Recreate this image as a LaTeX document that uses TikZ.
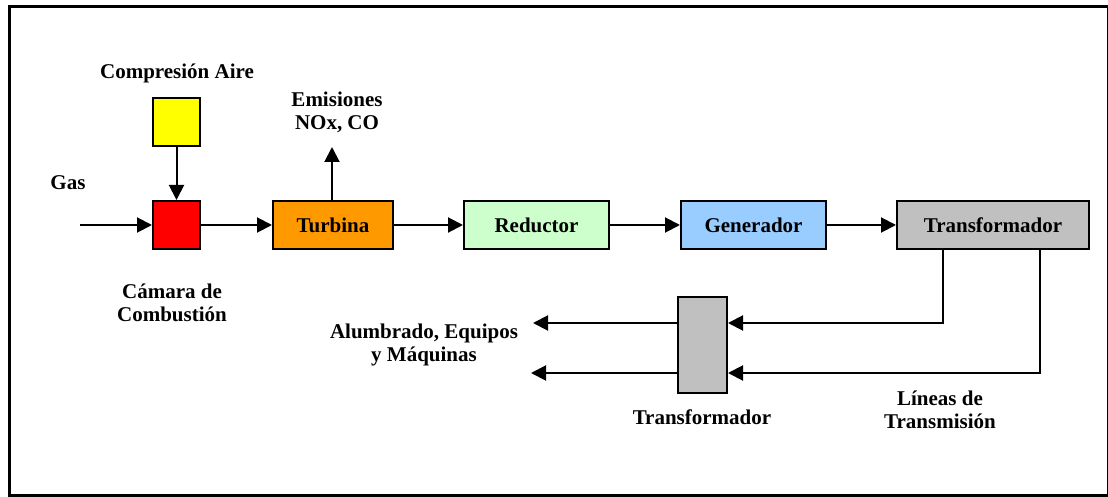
\documentclass[tikz,border=0pt]{standalone}
\usepackage{fontspec}
\setmainfont{Liberation Serif}
\usetikzlibrary{positioning,calc,arrows.meta}
\definecolor{cgas}{HTML}{FFFF00}
\definecolor{ccam}{HTML}{FF0000}
\definecolor{ctur}{HTML}{FF9900}
\definecolor{cred}{HTML}{CCFFCC}
\definecolor{cgen}{HTML}{99CCFF}
\definecolor{ctra}{HTML}{C0C0C0}
\tikzset{
  plant block/.style={rectangle, draw, line width=1pt, minimum height=24pt, inner sep=0pt, font=\bfseries},
  plant label/.style={align=center, inner sep=0pt, font=\bfseries},
  plant flow/.style={-{Triangle[length=7.5pt,width=7.5pt]}, line width=1pt}
}
\begin{document}
\begin{tikzpicture}[x=0.5pt, y=-0.5pt]
    \useasboundingbox (0,0) rectangle (1108,497);
    \fontsize{10.5}{11.5}\selectfont
    \draw [line width=1.5pt] (9,7) rectangle (1108.5,495.5);

    % main line
    \node [plant block, fill=cgas, minimum width=23.5pt] (Comp) at (176.5,122) {};
    \node [plant block, fill=ccam, minimum width=23.5pt] (Cam) at (176.5,225) {};
    \node [plant block, fill=ctur, minimum width=60pt] (Tur) at (333,225) {Turbina};
    \node [plant block, fill=cred, minimum width=72.5pt] (Red) at (536.5,225) {Reductor};
    \node [plant block, fill=cgen, minimum width=72.5pt] (Gen) at (753.5,225) {Generador};
    \node [plant block, fill=ctra, minimum width=96pt] (Tra) at (993,225) {Transformador};
    \node [plant block, fill=ctra, minimum width=24.5pt, minimum height=48pt] (Sub) at (702.5,345) {};

    % labels
    \node [plant label] (GasL) at (68,183) {Gas};
    \node [plant label] (CompL) at (177,73) {Compresión Aire};
    \node [plant label] (EmiL) at (337,112) {Emisiones\\NOx, CO};
    \node [plant label] (CamL) at (172,303) {Cámara de\\Combustión};
    \node [plant label] (AluL) at (424,345) {Alumbrado, Equipos\\y Máquinas};
    \node [plant label] (SubL) at (702,417) {Transformador};
    \node [plant label] (LinL) at (940,410) {Líneas de\\Transmisión};

    \coordinate (GasIn) at (80,225);
    \coordinate (EmiOut) at (332,147);
    \coordinate (OutA) at (533,323);
    \coordinate (OutB) at (531,373);

    \draw [plant flow] (GasIn) -- (Cam);
    \draw [plant flow] (Comp) -- (Cam);
    \draw [plant flow] (Cam) -- (Tur);
    \draw [plant flow] (Tur.north -| EmiOut) -- (EmiOut);
    \draw [plant flow] (Tur) -- (Red);
    \draw [plant flow] (Red) -- (Gen);
    \draw [plant flow] (Gen) -- (Tra);

    % distribution
    \draw [plant flow] ([xshift=-25pt]Tra.south) |- (Sub.east |- OutA);
    \draw [plant flow] ([xshift=23.5pt]Tra.south) |- (Sub.east |- OutB);
    \draw [plant flow] (Sub.west |- OutA) -- (OutA);
    \draw [plant flow] (Sub.west |- OutB) -- (OutB);
\end{tikzpicture}
\end{document}
